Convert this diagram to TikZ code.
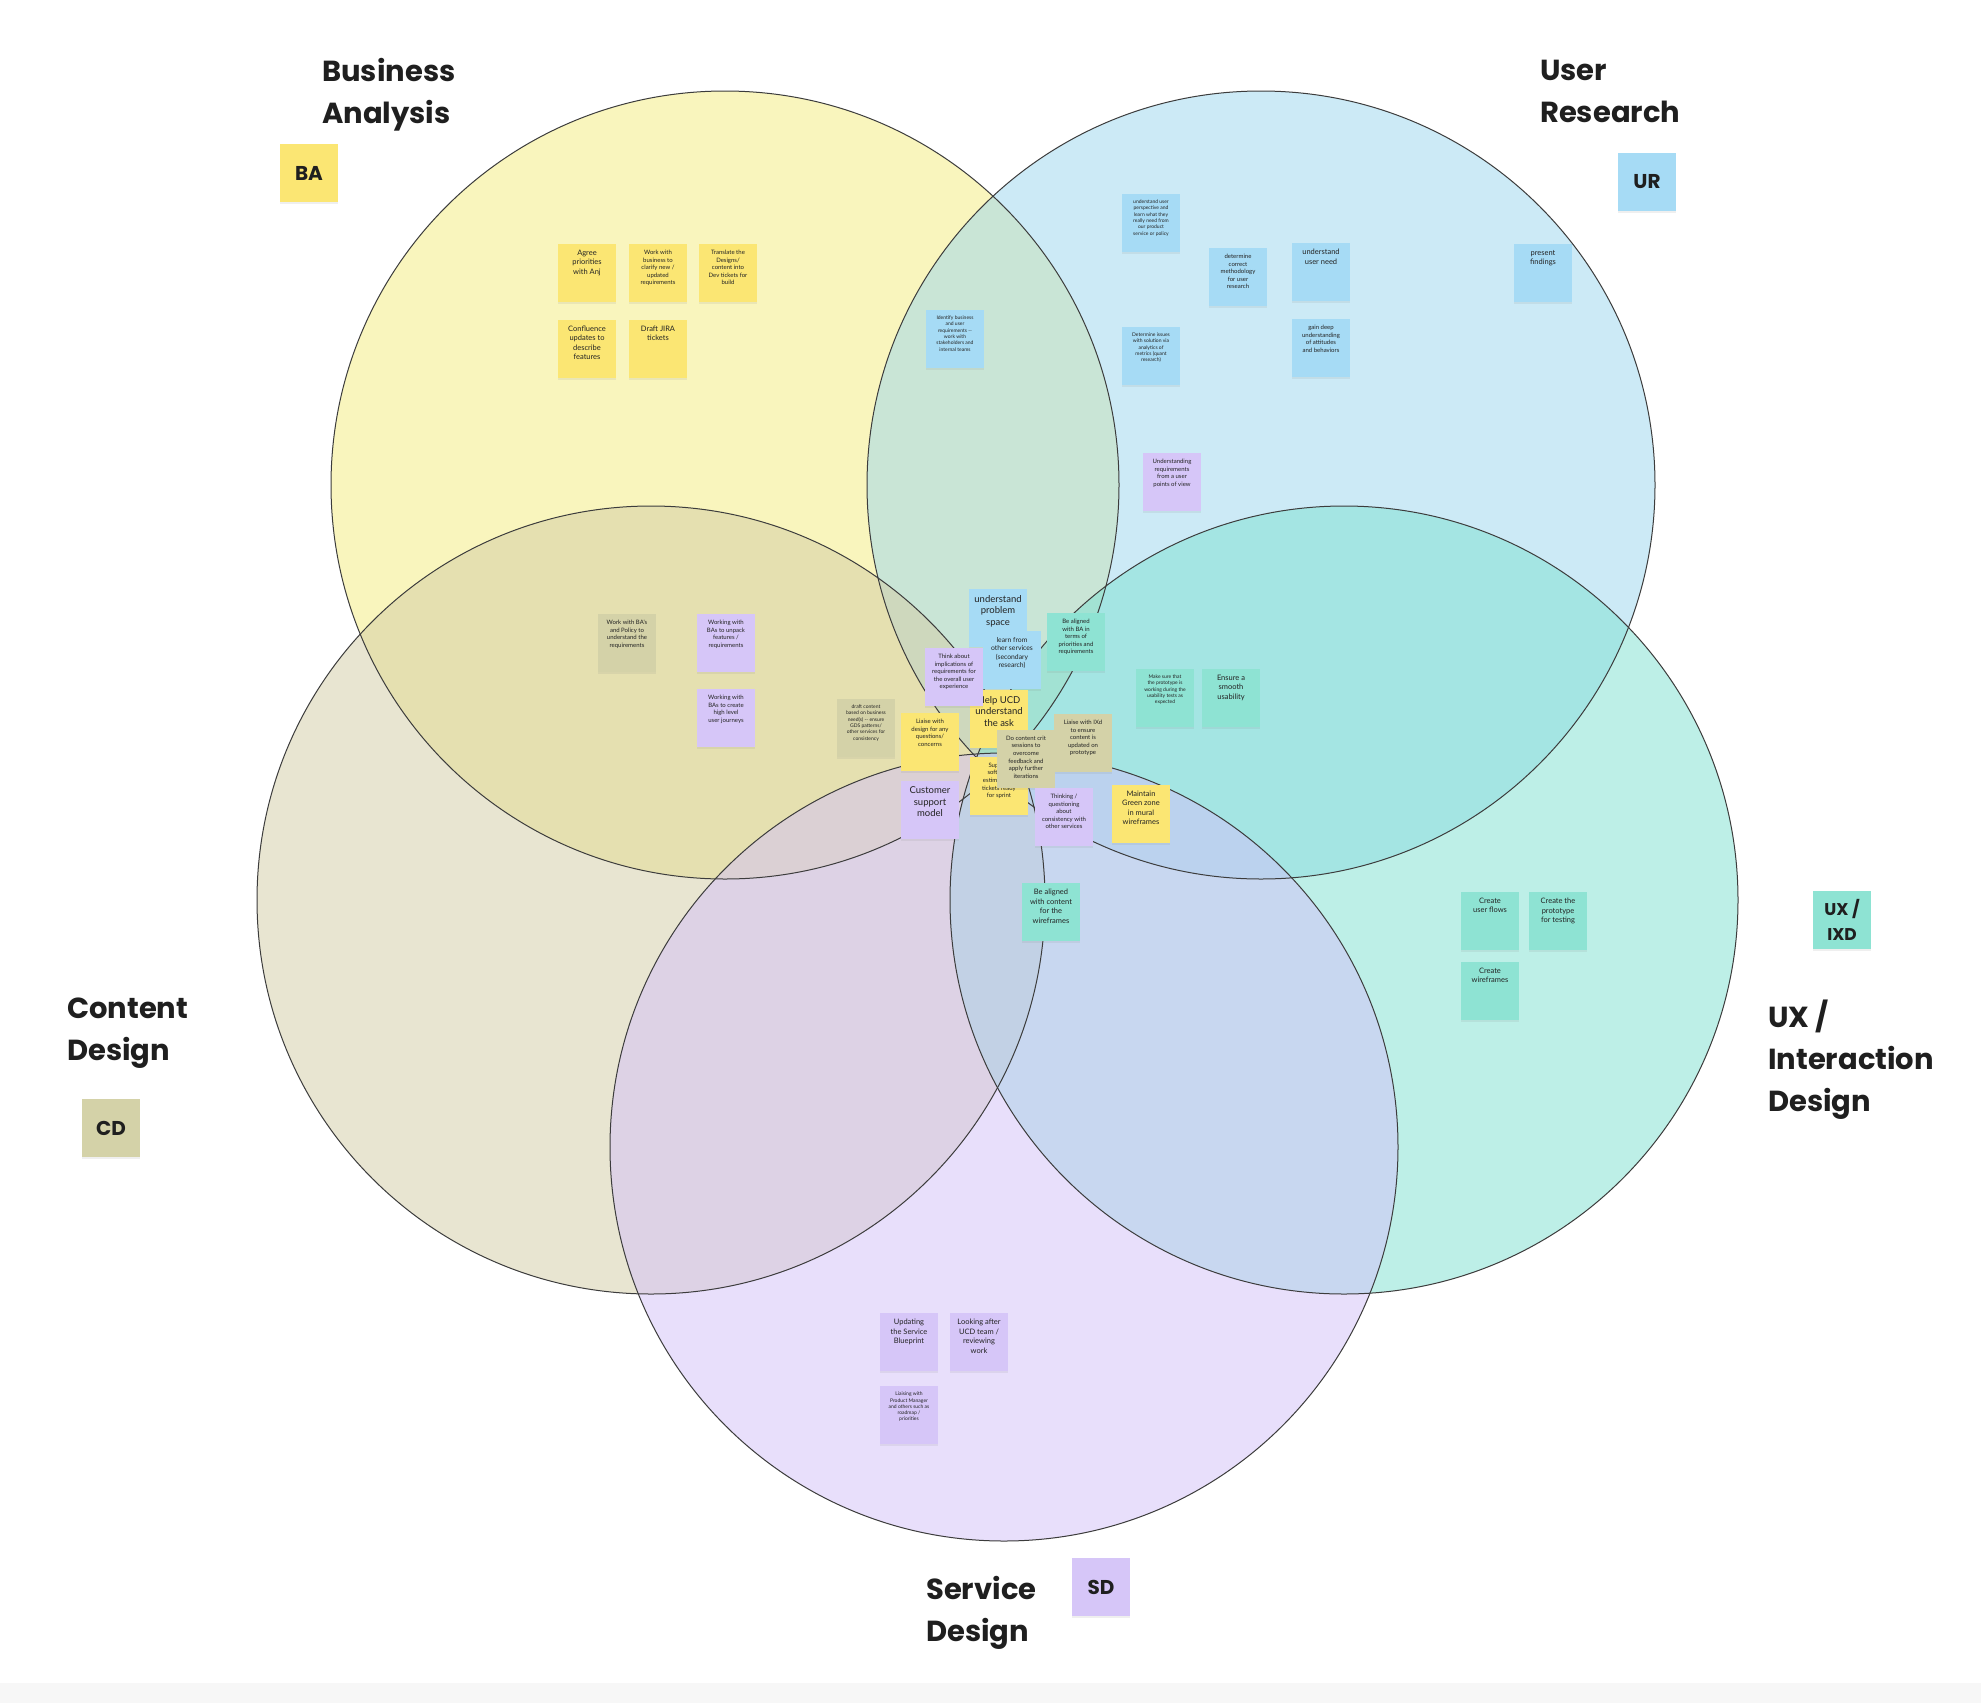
\documentclass[tikz,border=0pt]{standalone}
\usepackage{fontspec}
\setmainfont{Poppins}
\newfontfamily\notefont{Lato}
\usetikzlibrary{shadows}
\definecolor{baF}{RGB}{245,237,125}
\definecolor{urF}{RGB}{155,215,239}
\definecolor{cdF}{RGB}{211,205,165}
\definecolor{uxF}{RGB}{125,225,209}
\definecolor{sdF}{RGB}{211,193,249}
\definecolor{yel}{RGB}{251,230,115}
\definecolor{blu}{RGB}{166,219,245}
\definecolor{oli}{RGB}{212,210,168}
\definecolor{tea}{RGB}{142,227,211}
\definecolor{pur}{RGB}{214,198,248}
\definecolor{notetext}{RGB}{35,35,35}
\definecolor{ring}{RGB}{60,60,60}
\tikzset{
  stickybox/.style={rectangle, minimum width=58pt, minimum height=58pt, inner sep=0pt,
    drop shadow={shadow xshift=0pt, shadow yshift=-1.5pt, opacity=0.12}},
  stickytext/.style={align=center, inner sep=0pt, text=notetext},
  tny/.style={font=\notefont\fontsize{5}{6.3}\selectfont},
  sml/.style={font=\notefont\fontsize{6}{7.6}\selectfont},
  smm/.style={font=\notefont\fontsize{6.8}{8.6}\selectfont},
  med/.style={font=\notefont\fontsize{7.5}{9.5}\selectfont},
  lrg/.style={font=\notefont\fontsize{9.5}{11.5}\selectfont},
  title/.style={font=\bfseries\fontsize{29}{42}\selectfont, align=left, inner sep=0pt, anchor=north west, text=black!88},
  lbl/.style={stickybox, font=\bfseries\fontsize{20}{24}\selectfont, align=center, text=black!88},
  ringfill/.style={fill opacity=0.5},
  ringline/.style={draw=ring, line width=1pt}
}
\newcommand{\stk}[6]{%
  \node[stickybox, fill=#4] (#1) at (#2,#3) {};
  \node[stickytext, #5, anchor=north] (#1t) at ([yshift=-6pt]#1.north) {#6};
}
\begin{document}
\begin{tikzpicture}[x=1pt,y=-1pt]
\fill[white] (0,0) rectangle (1981,1703);
\fill[black!3] (0,1683) rectangle (1981,1703);
\useasboundingbox (0,0) rectangle (1981,1703);

\coordinate (cBA) at (725,485);
\coordinate (cUR) at (1261,485);
\coordinate (cCD) at (651,900);
\coordinate (cUX) at (1344,900);
\coordinate (cSD) at (1004,1147);

\fill[baF, ringfill] (cBA) circle[radius=394pt];
\fill[urF, ringfill] (cUR) circle[radius=394pt];
\fill[cdF, ringfill] (cCD) circle[radius=394pt];
\fill[uxF, ringfill] (cUX) circle[radius=394pt];
\fill[sdF, ringfill] (cSD) circle[radius=394pt];
\foreach \c in {cBA,cUR,cCD,cUX,cSD} {\draw[ringline] (\c) circle[radius=394pt];}

% Titles
\node[title] (tBA) at (322,58) {Business\\Analysis};
\node[title] (tUR) at (1540,60) {User\\Research};
\node[title] (tCD) at (67,998) {Content\\Design};
\node[title] (tUX) at (1768,1000) {UX /\\Interaction\\Design};
\node[title] (tSD) at (926,1576) {Service\\Design};

% Label stickies
\node[lbl, fill=yel] (lBA) at (309,173) {BA};
\node[lbl, fill=blu] (lUR) at (1647,182) {UR};
\node[lbl, fill=oli] (lCD) at (111,1128) {CD};
\node[lbl, fill=tea, font=\bfseries\fontsize{17}{25}\selectfont] (lUX) at (1842,920) {UX /\\IXD};
\node[lbl, fill=pur] (lSD) at (1101,1587) {SD};

% Business Analysis
\stk{n1}{587}{273}{yel}{med}{Agree\\priorities\\with Anj}
\stk{n2}{658}{273}{yel}{sml}{Work with\\business to\\clarify new /\\updated\\requirements}
\stk{n3}{728}{273}{yel}{sml}{Translate the\\Designs/\\content into\\Dev tickets for\\build}
\stk{n4}{587}{349}{yel}{med}{Confluence\\updates to\\describe\\features}
\stk{n5}{658}{349}{yel}{med}{Draft JIRA\\tickets}

% User Research
\stk{n6}{1151}{223}{blu}{tny}{understand user\\perspective and\\learn what they\\really need from\\our product\\service or policy}
\stk{n7}{1238}{277}{blu}{sml}{determine\\correct\\methodology\\for user\\research}
\stk{n8}{1321}{272}{blu}{med}{understand\\user need}
\stk{n9}{1543}{273}{blu}{med}{present\\findings}
\stk{n10}{1321}{348}{blu}{sml}{gain deep\\understanding\\of attitudes\\and behaviors}
\stk{n11}{1151}{356}{blu}{tny}{Determine issues\\with solution via\\analytics of\\metrics (quant\\research)}
\stk{n12}{955}{339}{blu}{tny}{Identify business\\and user\\requirements --\\work with\\stakeholders and\\internal teams}
\stk{n13}{1172}{482}{pur}{sml}{Understanding\\requirements\\from a user\\points of view}

% BA / CD overlap
\stk{n14}{627}{643}{oli}{sml}{Work with BA's\\and Policy to\\understand the\\requirements}
\stk{n15}{726}{643}{pur}{sml}{Working with\\BAs to unpack\\features /\\requirements}
\stk{n16}{726}{718}{pur}{sml}{Working with\\BAs to create\\high level\\user journeys}

% Centre cluster
\stk{n17}{998}{618}{blu}{lrg}{understand\\problem\\space}
\stk{n18}{1012}{660}{blu}{smm}{learn from\\other services\\(secondary\\research)}
\stk{n19}{1076}{642}{tea}{sml}{Be aligned\\with BA in\\terms of\\priorities and\\requirements}
\stk{n21}{999}{719}{yel}{lrg}{Help UCD\\understand\\the ask}
\stk{n20}{954}{677}{pur}{sml}{Think about\\implications of\\requirements for\\the overall user\\experience}
\stk{n22}{866}{728}{oli}{tny}{draft content\\based on business\\need(s) -- ensure\\GDS patterns/\\other services for\\consistency}
\stk{n23}{930}{742}{yel}{sml}{Liaise with\\design for any\\questions/\\concerns}
\stk{n26}{999}{786}{yel}{sml}{Support\\software\\estimation /\\tickets ready\\for sprint}
\stk{n24}{1083}{743}{oli}{sml}{Liaise with IXd\\to ensure\\content is\\updated on\\prototype}
\stk{n25}{1026}{759}{oli}{sml}{Do content crit\\sessions to\\overcome\\feedback and\\apply further\\iterations}
\stk{n27}{930}{810}{pur}{lrg}{Customer\\support\\model}
\stk{n28}{1064}{817}{pur}{sml}{Thinking /\\questioning\\about\\consistency with\\other services}
\stk{n29}{1141}{814}{yel}{med}{Maintain\\Green zone\\in mural\\wireframes}
\stk{n30}{1051}{912}{tea}{med}{Be aligned\\with content\\for the\\wireframes}

% UX / IXD
\stk{n31}{1165}{698}{tea}{tny}{Make sure that\\the prototype is\\working during the\\usability tests as\\expected}
\stk{n32}{1231}{698}{tea}{med}{Ensure a\\smooth\\usability}
\stk{n33}{1490}{921}{tea}{med}{Create\\user flows}
\stk{n34}{1558}{921}{tea}{med}{Create the\\prototype\\for testing}
\stk{n35}{1490}{991}{tea}{med}{Create\\wireframes}

% Service Design
\stk{n36}{909}{1342}{pur}{med}{Updating\\the Service\\Blueprint}
\stk{n37}{979}{1342}{pur}{med}{Looking after\\UCD team /\\reviewing\\work}
\stk{n38}{909}{1415}{pur}{tny}{Liaising with\\Product Manager\\and others such as\\roadmap /\\priorities}
\end{tikzpicture}
\end{document}
